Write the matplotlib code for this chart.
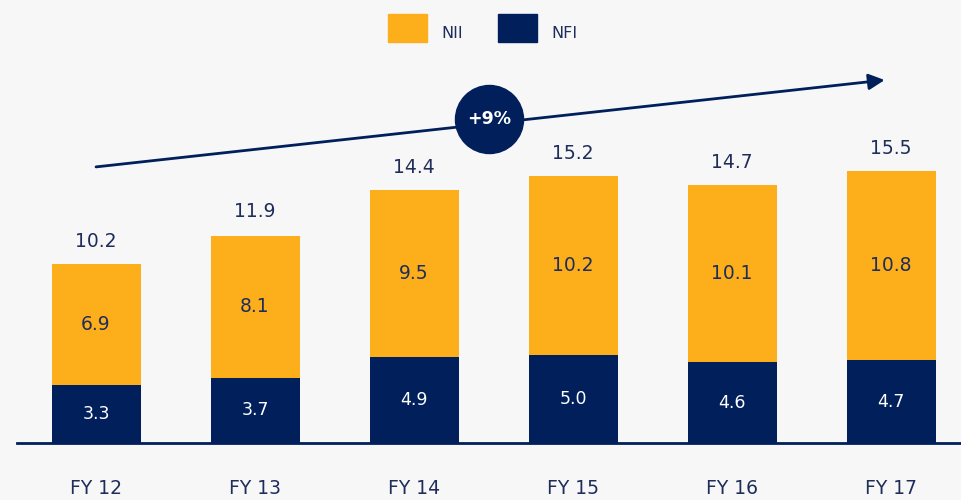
import matplotlib.pyplot as plt
from matplotlib.patches import Patch

years = ["FY 12", "FY 13", "FY 14", "FY 15", "FY 16", "FY 17"]
nfi = [3.3, 3.7, 4.9, 5.0, 4.6, 4.7]
nii = [6.9, 8.1, 9.5, 10.2, 10.1, 10.8]
totals = [10.2, 11.9, 14.4, 15.2, 14.7, 15.5]
growth_label = "+9%"

navy = "#001f5b"
orange = "#fdae1b"
text_col = "#1f2d5a"
bg = "#f7f7f7"

plt.rcParams['font.family'] = ['DejaVu Sans']

fig = plt.figure(figsize=(9.61, 5.0), dpi=100, facecolor=bg)
ax = fig.add_axes([0, 0, 1, 1])
ax.set_facecolor(bg)

x = list(range(len(years)))
ax.bar(x, nfi, width=0.56, color=navy, zorder=2)
ax.bar(x, nii, width=0.56, bottom=nfi, color=orange, zorder=2)

for i in x:
    ax.text(i, nfi[i] / 2, f"{nfi[i]:.1f}", ha='center', va='center',
            color='white', fontsize=12.5)
    ax.text(i, nfi[i] + nii[i] / 2, f"{nii[i]:.1f}", ha='center', va='center',
            color=text_col, fontsize=13.5)
    ax.text(i, totals[i] + 1.3, f"{totals[i]:.1f}", ha='center', va='center',
            color=text_col, fontsize=13.5)
    ax.text(i, -2.6, years[i], ha='center', va='center',
            color=text_col, fontsize=13.5)

# baseline
ax.plot([-0.5, 6], [0, 0], color=navy, lw=2, zorder=3)

# growth arrow
ax.annotate("", xy=(4.96, 20.68), xytext=(0, 15.73),
            arrowprops=dict(arrowstyle='-|>', color=navy, lw=2,
                            mutation_scale=24, shrinkA=0, shrinkB=0))
ax.scatter([2.47], [18.46], s=2400, color=navy, zorder=4)
ax.text(2.47, 18.46, growth_label, ha='center', va='center', color='white',
        fontsize=12.5, fontweight='bold', zorder=5)

ax.set_xlim(-0.604, 5.44)
ax.set_ylim(-3.25, 25.24)
ax.axis('off')

handles = [Patch(color=orange, label="NII"), Patch(color=navy, label="NFI")]
leg = fig.legend(handles=handles, loc='upper center', bbox_to_anchor=(0.502, 1.0),
                 ncol=2, frameon=False, fontsize=11.5, handlelength=2.48,
                 handleheight=2.3, handletextpad=0.85, columnspacing=2.2)
for t in leg.get_texts():
    t.set_color(text_col)
    t.set_va('center')

fig.savefig("out.png", dpi=100, facecolor=bg)
